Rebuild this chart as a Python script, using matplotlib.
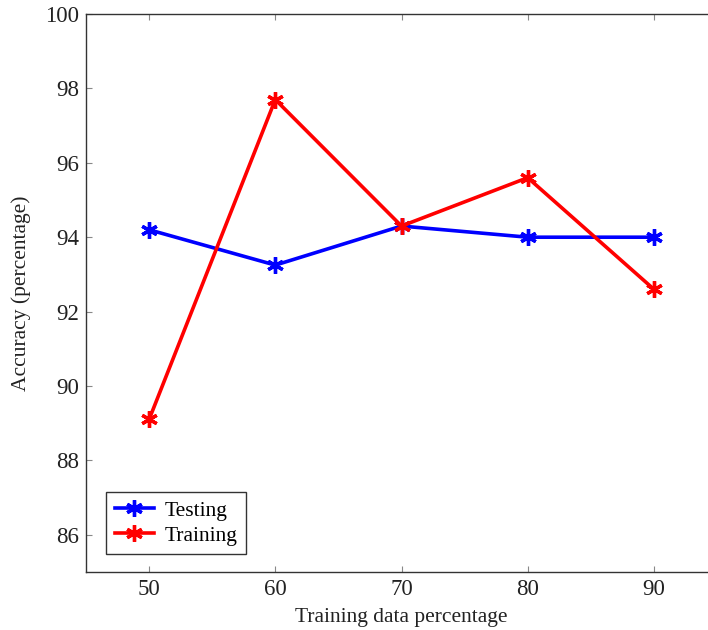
import matplotlib
matplotlib.use("Agg")
import matplotlib.pyplot as plt

plt.rcParams['font.family'] = ['Liberation Serif', 'DejaVu Serif']

train_pct = [50, 60, 70, 80, 90]
testing = [94.2, 93.25, 94.3, 94.0, 94.0]
training = [89.1, 97.7, 94.3, 95.6, 92.6]
yticks = [86, 88, 90, 92, 94, 96, 98, 100]
xticks = [50, 60, 70, 80, 90]

W, H = 708, 630
fig = plt.figure(figsize=(W / 100, H / 100), dpi=100)
left, right, top, bottom = 86, 717, 14, 572
ax = fig.add_axes([left / W, 1 - bottom / H, (right - left) / W, (bottom - top) / H])

ax.plot(train_pct, testing, color='#0000ff', lw=2.6, marker=(6, 2, 0),
        ms=12, mew=2.4, label='Testing')
ax.plot(train_pct, training, color='#ff0000', lw=2.6, marker=(6, 2, 0),
        ms=12, mew=2.4, label='Training')

ax.set_xlim(45, 95)
ax.set_ylim(85, 100)
ax.set_xticks(xticks)
ax.set_yticks(yticks)
ax.tick_params(direction='in', top=True, right=True, length=4, width=0.8,
               color='#888888', labelsize=16.5, labelcolor='#222222', pad=5)
for s in ax.spines.values():
    s.set_linewidth(1.0)
    s.set_color('#333333')

ax.set_xlabel('Training data percentage', fontsize=15.5, color='#222222', labelpad=6)
ax.set_ylabel('Accuracy (percentage)', fontsize=15.5, color='#222222', labelpad=10)

leg = ax.legend(loc='lower left', bbox_to_anchor=(0.032, 0.032), fontsize=15.5,
                fancybox=False, frameon=True, edgecolor='black',
                handlelength=1.8, borderpad=0.4, labelspacing=0.22,
                handletextpad=0.5, borderaxespad=0.0)
leg.get_frame().set_linewidth(1.0)

fig.savefig('out.png', dpi=100)
